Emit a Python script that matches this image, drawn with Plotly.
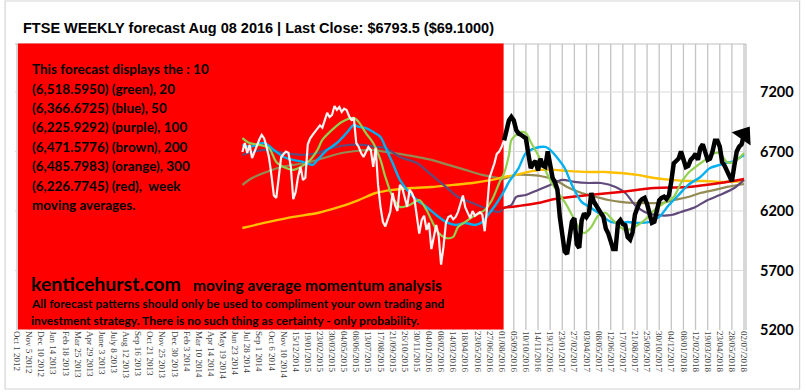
import plotly.graph_objects as go

W, H = 806, 392
ML, MR, MT, MB = 13, 57, 44, 62

TITLE = "FTSE WEEKLY forecast Aug 08 2016 | Last Close: $6793.5 ($69.1000)"

# Week index 0 = Oct 1 2012; one label every fifth week
TICK_WEEKS = list(range(0, 301, 5))
TICK_LABELS = [
    "Oct 1 2012", "Nov 5 2012", "Dec 10 2012", "Jan 14 2013", "Feb 18 2013",
    "Mar 25 2013", "Apr 29 2013", "June 3 2013", "July 8 2013", "Aug 12 2013",
    "Sep 16 2013", "Oct 21 2013", "Nov 25 2013", "Dec 30 2013", "Feb 3 2014",
    "Mar 10 2014", "Apr 14 2014", "May 19 2014", "Jun 23 2014", "Jul 28 2014",
    "Sep 1 2014", "Oct 6 2014", "Nov 10 2014", "15/12/2014", "19/01/2015",
    "23/02/2015", "30/03/2015", "04/05/2015", "08/06/2015", "13/07/2015",
    "17/08/2015", "21/09/2015", "26/10/2015", "30/11/2015", "04/01/2016",
    "08/02/2016", "14/03/2016", "18/04/2016", "23/05/2016", "27/06/2016",
    "01/08/2016", "05/09/2016", "10/10/2016", "14/11/2016", "19/12/2016",
    "23/01/2017", "27/02/2017", "03/04/2017", "08/05/2017", "12/06/2017",
    "17/07/2017", "21/08/2017", "25/09/2017", "30/10/2017", "04/12/2017",
    "08/01/2018", "12/02/2018", "19/03/2018", "23/04/2018", "28/05/2018",
    "02/07/2018",
]
Y_TICKS = [5200, 5700, 6200, 6700, 7200]
Y_RANGE = [5200, 7603]
X_RANGE = [-0.82, 300.82]

FORECAST_START = 201  # Aug 08 2016

# Weekly closes, weeks 93..201
PRICE = [
    6696, 6771, 6687, 6755, 6645, 6700, 6760, 6800, 6840, 6810,
    6738, 6650, 6500, 6330, 6310, 6470, 6650, 6680, 6700, 6690,
    6570, 6300, 6360, 6490, 6570, 6460, 6480, 6760, 6810, 6840,
    6870, 6890, 6920, 6900, 6960, 7024, 6990, 7007, 7082, 7049,
    7074, 7032, 7060, 7049, 6998, 6965, 6982, 6771, 6738, 6687,
    6654, 6700, 6738, 6713, 6570, 6730, 6419, 6234, 6108, 6070,
    6124, 6192, 6351, 6250, 6200, 6419, 6393, 6300, 6234, 6380,
    6351, 6300, 6166, 6010, 6124, 6160, 6040, 6100, 5880, 6000,
    6082, 5990, 5750, 5900, 6100, 6150, 6160, 6130, 6150, 6192,
    6260, 6330, 6230, 6180, 6140, 6200, 6160, 6175, 6190, 6170,
    6030, 6230, 6480, 6540, 6600, 6680, 6700, 6740, 6793.5,
]
PRICE_WEEKS = list(range(93, 93 + len(PRICE)))

# Weekly forecast, weeks 201..300
FORECAST = [
    6793.5, 6900, 6960, 6990, 6960, 6880, 6850, 6840, 6820, 6810,
    6680, 6560, 6600, 6620, 6540, 6640, 6580, 6570, 6700, 6560,
    6480, 6440, 6380, 6150, 5980, 5860, 5840, 5990, 6110, 6140,
    5920, 5890, 6120, 6180, 6150, 6180, 6350, 6280, 6240, 6200,
    6180, 6150, 6050, 6010, 5930, 5880, 5880, 6100, 6124, 6090,
    6080, 5980, 5960, 6020, 6170, 6230, 6280, 6300, 6310, 6260,
    6160, 6100, 6110, 6220, 6290, 6310, 6320, 6300, 6330, 6450,
    6600, 6620, 6640, 6700, 6620, 6570, 6580, 6630, 6650, 6680,
    6630, 6730, 6760, 6700, 6630, 6640, 6700, 6790, 6790, 6740,
    6610, 6580, 6530, 6490, 6450, 6580, 6700, 6740, 6760, 6840,
]
FORECAST_WEEKS = list(range(FORECAST_START, FORECAST_START + len(FORECAST)))

# Moving averages (week, level)
MA10_WEEKS = [93, 96, 100, 104, 107, 111, 114, 117, 121, 124, 126, 130, 134, 139,
              141, 144, 147, 150, 152, 155, 158, 162, 166, 169, 171, 174, 177, 180,
              182, 185, 188, 191, 193, 196, 199, 201, 203, 204, 206, 208, 210, 212,
              215, 218, 220, 223, 226, 229, 232, 234, 237, 240, 243, 245, 248, 251,
              255, 259, 263, 267, 271, 274, 277, 280, 284, 288, 290, 293, 296, 300]
MA10 = [6813, 6771, 6755, 6729, 6612, 6561, 6545, 6570, 6629, 6713, 6797, 6881, 6948, 6982,
        6948, 6855, 6771, 6629, 6486, 6318, 6234, 6250, 6292, 6208, 6124, 6015, 5973, 5982,
        6066, 6108, 6150, 6183, 6208, 6292, 6435, 6518.6, 6671, 6797, 6839, 6864, 6855, 6780,
        6671, 6545, 6461, 6360, 6276, 6166, 6057, 6015, 6066, 6166, 6183, 6141, 6082, 6040,
        6066, 6124, 6208, 6267, 6318, 6435, 6519, 6570, 6629, 6687, 6687, 6612, 6612, 6687]

MA20_WEEKS = [93, 96, 102, 106, 110, 114, 118, 122, 124, 128, 132, 136, 139, 141, 144,
              147, 150, 152, 155, 158, 161, 165, 169, 173, 177, 181, 185, 189, 192, 195,
              198, 201, 203, 207, 210, 214, 218, 220, 223, 226, 229, 233, 237, 241, 245,
              249, 252, 256, 261, 265, 269, 273, 277, 282, 286, 290, 292, 295, 300]
MA20 = [6755, 6738, 6771, 6713, 6654, 6629, 6612, 6587, 6629, 6713, 6771, 6855, 6923, 6906, 6897,
        6864, 6822, 6738, 6603, 6461, 6377, 6292, 6234, 6166, 6108, 6082, 6099, 6082, 6108, 6183,
        6267, 6366.7, 6444, 6561, 6687, 6729, 6738, 6713, 6645, 6561, 6419, 6276, 6225, 6166, 6108,
        6099, 6108, 6099, 6108, 6150, 6250, 6334, 6419, 6486, 6561, 6587, 6603, 6612, 6670]

MA50_WEEKS = [93, 97, 103, 110, 117, 124, 130, 137, 143, 148, 152, 158, 165, 171, 177,
              182, 188, 193, 199, 201, 204, 206, 210, 215, 220, 225, 230, 236, 241, 247,
              251, 255, 259, 264, 270, 274, 280, 285, 290, 296, 300]
MA50 = [6671, 6696, 6713, 6687, 6671, 6687, 6729, 6755, 6755, 6738, 6729, 6654, 6603, 6503, 6402,
        6318, 6267, 6225, 6192, 6225.9, 6250, 6318, 6334, 6377, 6419, 6461, 6444, 6435, 6435, 6402,
        6351, 6250, 6192, 6166, 6166, 6192, 6234, 6292, 6334, 6393, 6461]

MA100_WEEKS = [93, 97, 103, 109, 114, 121, 128, 134, 140, 147, 152, 158, 165, 171, 178,
               185, 192, 196, 201, 206, 211, 216, 222, 227, 233, 239, 244, 249, 255, 260,
               266, 271, 277, 282, 288, 293, 300]
MA100 = [6419, 6477, 6528, 6570, 6587, 6612, 6654, 6687, 6704, 6713, 6696, 6680, 6654, 6629, 6587,
         6545, 6503, 6486, 6471.6, 6503, 6503, 6494, 6461, 6402, 6351, 6318, 6292, 6276, 6267, 6267,
         6267, 6292, 6318, 6351, 6377, 6402, 6427]

MA200_WEEKS = [93, 104, 114, 124, 133, 141, 148, 155, 163, 171, 180, 188, 196, 201, 206,
               211, 216, 222, 227, 236, 243, 249, 256, 263, 270, 277, 284, 290, 300]
MA200 = [6057, 6108, 6150, 6183, 6234, 6292, 6351, 6377, 6393, 6402, 6419, 6435, 6461, 6485.8, 6503,
         6528, 6545, 6545, 6537, 6528, 6528, 6519, 6503, 6477, 6461, 6452, 6452, 6444, 6452]

MA300_WEEKS = [176, 182, 188, 195, 201, 207, 215, 222, 236, 249, 263, 277, 290, 300]
MA300 = [6166, 6192, 6208, 6217, 6226.8, 6242, 6267, 6301, 6334, 6360, 6393, 6402, 6435, 6469]

TEXT_LINES = [
    "This forecast displays the : 10",
    "(6,518.5950) (green), 20",
    "(6,366.6725) (blue), 50",
    "(6,225.9292) (purple), 100",
    "(6,471.5776) (brown), 200",
    "(6,485.7983) (orange), 300",
    "(6,226.7745) (red),  week",
    "moving averages.",
]
BRAND = "kenticehurst.com"
BRAND_TAG = "moving average momentum analysis"
DISCLAIMER = [
    "All forecast patterns should only be used to compliment your own trading and",
    "investment strategy. There is no such thing as certainty - only probability.",
]

PW, PH = W - ML - MR, H - MT - MB


def px_x(px):
    return (px - ML) / PW


def px_y(py):
    return (H - MB - py) / PH


BODY_FONT = "Lato"
GRID_V = "#C4C4C4"
GRID_H = "#DADADA"

fig = go.Figure()

ma_series = [
    (MA100_WEEKS, MA100, "#948A54", 2.2),
    (MA200_WEEKS, MA200, "#FFC000", 2.4),
    (MA50_WEEKS, MA50, "#604A7B", 2.2),
    (MA300_WEEKS, MA300, "#E80000", 2.4),
    (MA20_WEEKS, MA20, "#00B0F0", 2.4),
    (MA10_WEEKS, MA10, "#92D050", 2.2),
]
for wk, vals, col, lw in ma_series:
    fig.add_trace(go.Scatter(x=wk, y=vals, mode="lines",
                             line=dict(color=col, width=lw, shape="spline", smoothing=0.8),
                             hoverinfo="skip"))

fig.add_trace(go.Scatter(x=PRICE_WEEKS, y=PRICE, mode="lines",
                         line=dict(color="#FFF2F2", width=2.2), hoverinfo="skip"))
fig.add_trace(go.Scatter(x=FORECAST_WEEKS, y=FORECAST, mode="lines",
                         line=dict(color="#000000", width=4.5), hoverinfo="skip"))
# arrowhead at the end of the forecast
fig.add_trace(go.Scatter(x=FORECAST_WEEKS[-1:], y=FORECAST[-1:], mode="markers",
                         marker=dict(symbol="triangle-up", size=20, color="#000000",
                                     angle=35, line=dict(width=0)),
                         cliponaxis=False, hoverinfo="skip"))

shapes = []
# grid drawn as shapes so that the red panel can hide it
for wk in TICK_WEEKS:
    shapes.append(dict(type="line", xref="x", yref="paper", x0=wk, x1=wk, y0=0, y1=1,
                       line=dict(color=GRID_V, width=1.3), layer="below"))
for yv in Y_TICKS[1:]:
    shapes.append(dict(type="line", xref="paper", yref="y", x0=0, x1=1, y0=yv, y1=yv,
                       line=dict(color=GRID_H, width=1), layer="below"))
shapes += [
    # plot frame, top and right
    dict(type="line", xref="paper", yref="paper", x0=0, x1=1, y0=1, y1=1,
         line=dict(color="#BFBFBF", width=1.2), layer="below"),
    dict(type="line", xref="paper", yref="paper", x0=1, x1=1, y0=0, y1=1,
         line=dict(color="#BFBFBF", width=1.2), layer="below"),
    # red panel behind the historical section
    dict(type="rect", xref="x", yref="paper", x0=0.4, x1=FORECAST_START - 0.2,
         y0=0.0017, y1=1.0017, fillcolor="#FF0000", line=dict(width=0), layer="below"),
    # outer border
    dict(type="rect", xref="paper", yref="paper", x0=px_x(3), x1=px_x(803),
         y0=px_y(389), y1=px_y(1), line=dict(color="#D4D4D4", width=1.2),
         fillcolor="rgba(0,0,0,0)", layer="below"),
]

annotations = []
line_centers = [69, 89, 108, 127, 147, 166, 186, 205]
for txt, yc in zip(TEXT_LINES, line_centers):
    annotations.append(dict(text=txt, xref="paper", yref="paper", x=px_x(28), y=px_y(yc),
                            xanchor="left", yanchor="middle", showarrow=False,
                            font=dict(family=BODY_FONT, size=13.5, color="#000000", weight="bold")))
annotations.append(dict(text=BRAND, xref="paper", yref="paper", x=px_x(27), y=px_y(283),
                        xanchor="left", yanchor="middle", showarrow=False,
                        font=dict(family=BODY_FONT, size=19.5, color="#000000", weight="bold")))
annotations.append(dict(text=BRAND_TAG, xref="paper", yref="paper", x=px_x(190), y=px_y(285),
                        xanchor="left", yanchor="middle", showarrow=False,
                        font=dict(family=BODY_FONT, size=15.5, color="#000000", weight="bold")))
for txt, yc in zip(DISCLAIMER, [303, 320]):
    annotations.append(dict(text=txt, xref="paper", yref="paper", x=px_x(27), y=px_y(yc),
                            xanchor="left", yanchor="middle", showarrow=False,
                            font=dict(family=BODY_FONT, size=12, color="#000000", weight="bold")))

fig.update_layout(
    width=W, height=H,
    margin=dict(l=ML, r=MR, t=MT, b=MB),
    paper_bgcolor="#FFFFFF", plot_bgcolor="rgba(0,0,0,0)",
    showlegend=False,
    title=dict(text=TITLE, xref="container", yref="container", x=23 / W, y=1 - 28 / H,
               xanchor="left", yanchor="middle",
               font=dict(family="Liberation Sans", size=14.5, color="#000000", weight="bold")),
    shapes=shapes,
    annotations=annotations,
)
fig.update_xaxes(range=X_RANGE, tickmode="array", tickvals=TICK_WEEKS,
                 ticktext=TICK_LABELS, tickangle=90, ticks="",
                 tickfont=dict(family="Liberation Serif", size=9, color="#404040"),
                 showgrid=False, zeroline=False, showline=False)
fig.update_yaxes(range=Y_RANGE, side="right", tickmode="array", tickvals=Y_TICKS,
                 ticks="", ticklabelstandoff=13,
                 tickfont=dict(family=BODY_FONT, size=14.5, color="#000000", weight="bold"),
                 showgrid=False, zeroline=False, showline=False)

fig.write_html("out.html")
